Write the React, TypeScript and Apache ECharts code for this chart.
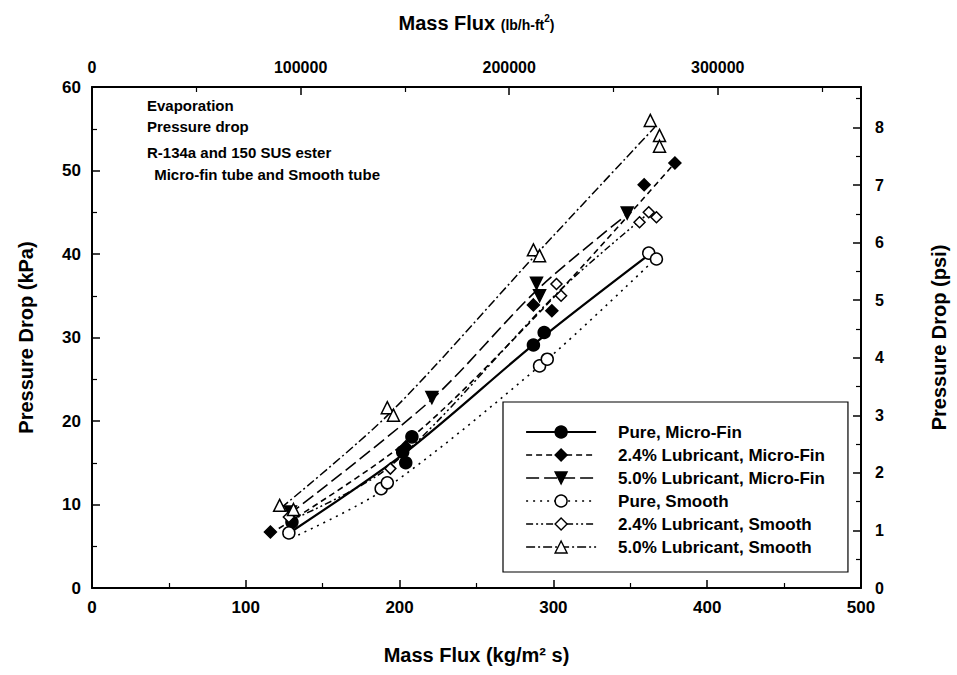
import React, { useEffect, useRef } from 'react';
import * as echarts from 'echarts';

// Series names (legend order)
const seriesNames = [
  'Pure, Micro-Fin',
  '2.4% Lubricant, Micro-Fin',
  '5.0% Lubricant, Micro-Fin',
  'Pure, Smooth',
  '2.4% Lubricant, Smooth',
  '5.0% Lubricant, Smooth',
];

// Measured points: [mass flux (kg/m2 s), pressure drop (kPa)]
const pureMicroFin = [[130, 7.9], [202, 16.3], [204, 15.0], [208, 18.1], [287, 29.1], [294, 30.6]];
const lub24MicroFin = [[116, 6.7], [204, 16.9], [287, 33.9], [299, 33.2], [359, 48.3], [379, 50.9]];
const lub50MicroFin = [[129, 9.1], [221, 22.8], [289, 36.5], [291, 35.0], [348, 44.9]];
const pureSmooth = [[128, 6.6], [188, 11.9], [192, 12.6], [291, 26.6], [296, 27.4], [362, 40.1], [367, 39.4]];
const lub24Smooth = [[128, 8.5], [194, 14.3], [302, 36.4], [305, 35.0], [356, 43.8], [362, 45.0], [367, 44.4]];
const lub50Smooth = [[122, 9.9], [131, 9.4], [192, 21.6], [196, 20.7], [287, 40.5], [291, 39.8], [363, 56.0], [369, 54.2], [369, 52.9]];

// Curve fits
const fitPureMicroFin = [[130, 6.8], [205, 16.4], [290, 29.6], [362, 39.9]];
const fit24MicroFin = [[116, 6.5], [205, 17.6], [293, 33.4], [379, 50.9]];
const fit50MicroFin = [[128, 8.8], [221, 22.6], [290, 35.8], [349, 44.9]];
const fitPureSmooth = [[130, 6.0], [190, 11.8], [293, 26.9], [365, 39.2]];
const fit24Smooth = [[128, 8.0], [194, 14.6], [304, 35.6], [362, 44.9]];
const fit50Smooth = [[123, 9.6], [194, 21.0], [289, 40.0], [366, 55.2]];

const pointSets = [pureMicroFin, lub24MicroFin, lub50MicroFin, pureSmooth, lub24Smooth, lub50Smooth];
const fitSets = [fitPureMicroFin, fit24MicroFin, fit50MicroFin, fitPureSmooth, fit24Smooth, fit50Smooth];

// Axis ranges
const xMin = 0;
const xMax = 500;
const xInterval = 100;
const yMin = 0;
const yMax = 60;
const yInterval = 10;
const KG_TO_LB = 737.338; // kg/m2 s -> lb/h-ft2
const KPA_TO_PSI = 1 / 6.894757;

const annotationLines = ['Evaporation', 'Pressure drop', 'R-134a and 150 SUS ester', ' Micro-fin tube and Smooth tube'];

const FONT = '"Liberation Sans", Arial, Helvetica, sans-serif';

const styles = [
  { symbol: 'circle', rotate: 0, fill: '#000', dash: 'solid' as any, width: 2.2, size: 12 },
  { symbol: 'diamond', rotate: 0, fill: '#000', dash: [6, 4], width: 1.6, size: 12 },
  { symbol: 'triangle', rotate: 180, fill: '#000', dash: [13, 5], width: 1.6, size: 12 },
  { symbol: 'circle', rotate: 0, fill: '#fff', dash: [2, 5], width: 1.6, size: 12 },
  { symbol: 'diamond', rotate: 0, fill: '#fff', dash: [7, 3, 2, 3, 2, 3], width: 1.5, size: 11 },
  { symbol: 'triangle', rotate: 0, fill: '#fff', dash: [9, 3, 2, 3], width: 1.5, size: 12 },
];

export default function App() {
  const ref = useRef<HTMLDivElement>(null);
  useEffect(() => {
    if (!ref.current) return;
    const chart = echarts.init(ref.current, undefined, { renderer: 'svg' });

    const lineSeries = seriesNames.map((name, i) => ({
      type: 'line',
      name,
      data: fitSets[i],
      smooth: 0.3,
      showSymbol: false,
      symbol: styles[i].symbol,
      symbolRotate: styles[i].rotate,
      symbolSize: styles[i].size,
      itemStyle: { color: styles[i].fill, borderColor: '#000', borderWidth: 1.5 },
      lineStyle: { color: '#000', width: styles[i].width, type: styles[i].dash },
      silent: true,
      z: 2,
    }));
    const scatterSeries = seriesNames.map((name, i) => ({
      type: 'scatter',
      name,
      data: pointSets[i],
      symbol: styles[i].symbol,
      symbolRotate: styles[i].rotate,
      symbolSize: styles[i].size,
      itemStyle: { color: styles[i].fill, borderColor: '#000', borderWidth: 1.5, opacity: 1 },
      z: 3,
    }));

    const axisCommon = {
      axisLine: { show: true, onZero: false, lineStyle: { color: '#000', width: 2 } },
      axisTick: { show: true, inside: true, length: 8, lineStyle: { color: '#000', width: 1.5 } },
      minorTick: { show: true, splitNumber: 2, length: 5, lineStyle: { color: '#000', width: 1.2 } },
      splitLine: { show: false },
      nameLocation: 'middle',
    };

    chart.setOption({
      animation: false,
      backgroundColor: '#fff',
      grid: { left: 92, right: 91, top: 87, bottom: 87, containLabel: false },
      xAxis: [
        {
          ...axisCommon,
          type: 'value',
          position: 'bottom',
          min: xMin,
          max: xMax,
          interval: xInterval,
          name: 'Mass Flux (kg/m² s)',
          nameGap: 57,
          nameTextStyle: { fontFamily: FONT, fontSize: 20, fontWeight: 'bold', color: '#000' },
          axisLabel: { margin: 11, fontFamily: FONT, fontSize: 17, fontWeight: 'bold', color: '#000' },
        },
        {
          ...axisCommon,
          type: 'value',
          position: 'top',
          min: xMin * KG_TO_LB,
          max: xMax * KG_TO_LB,
          interval: 100000,
          name: '{a|Mass Flux }{b|(lb/h-ft}{c|2}{b|)}',
          nameGap: 54,
          nameTextStyle: {
            fontFamily: FONT,
            color: '#000',
            rich: {
              a: { fontFamily: FONT, fontSize: 20, fontWeight: 'bold', color: '#000', verticalAlign: 'bottom' },
              b: { fontFamily: FONT, fontSize: 14, fontWeight: 'bold', color: '#000', verticalAlign: 'bottom', padding: [0, 0, 1, 0] },
              c: { fontFamily: FONT, fontSize: 10, fontWeight: 'bold', color: '#000', verticalAlign: 'top' },
            },
          },
          axisLabel: {
            margin: 12,
            fontFamily: FONT,
            fontSize: 16,
            fontWeight: 'bold',
            color: '#000',
            showMaxLabel: false,
            formatter: (v: number) => String(Math.round(v)),
          },
        },
      ],
      yAxis: [
        {
          ...axisCommon,
          type: 'value',
          position: 'left',
          min: yMin,
          max: yMax,
          interval: yInterval,
          name: 'Pressure Drop (kPa)',
          nameGap: 56,
          nameTextStyle: { fontFamily: FONT, fontSize: 20, fontWeight: 'bold', color: '#000' },
          axisLabel: { margin: 11, fontFamily: FONT, fontSize: 17, fontWeight: 'bold', color: '#000' },
        },
        {
          ...axisCommon,
          type: 'value',
          position: 'right',
          min: yMin * KPA_TO_PSI,
          max: yMax * KPA_TO_PSI,
          interval: 1,
          name: 'Pressure Drop (psi)',
          nameGap: 68,
          nameTextStyle: { fontFamily: FONT, fontSize: 20, fontWeight: 'bold', color: '#000' },
          axisLabel: {
            margin: 14,
            fontFamily: FONT,
            fontSize: 16,
            fontWeight: 'bold',
            color: '#000',
            showMaxLabel: false,
            formatter: (v: number) => String(Math.round(v)),
          },
        },
      ],
      legend: {
        orient: 'vertical',
        left: 503,
        top: 402,
        padding: [21, 23, 16, 22],
        itemWidth: 70,
        itemHeight: 15,
        itemGap: 5,
        borderColor: '#000',
        borderWidth: 1.2,
        backgroundColor: '#fff',
        selectedMode: false,
        textStyle: { fontFamily: FONT, fontSize: 17, fontWeight: 'bold', lineHeight: 18, color: '#000', padding: [0, 0, 0, 17] },
        data: seriesNames.map((name, i) => ({
          name,
          itemStyle: { color: styles[i].fill, borderColor: '#000', borderWidth: 1.4 },
          lineStyle: { color: '#000', width: styles[i].width, type: styles[i].dash },
        })),
      },
      graphic: annotationLines.map((t, i) => ({
        type: 'text',
        x: i === 3 ? 150 : 147,
        y: [105, 126, 152, 174][i],
        style: { text: t, font: `bold 15px ${FONT}`, fill: '#000', verticalAlign: 'middle' },
      })),
      series: [...lineSeries, ...scatterSeries],
    });

    return () => chart.dispose();
  }, []);

  return (
    <div
      ref={ref}
      style={{ position: 'absolute', left: 0, top: 0, width: 957, height: 675, background: '#fff' }}
    />
  );
}
